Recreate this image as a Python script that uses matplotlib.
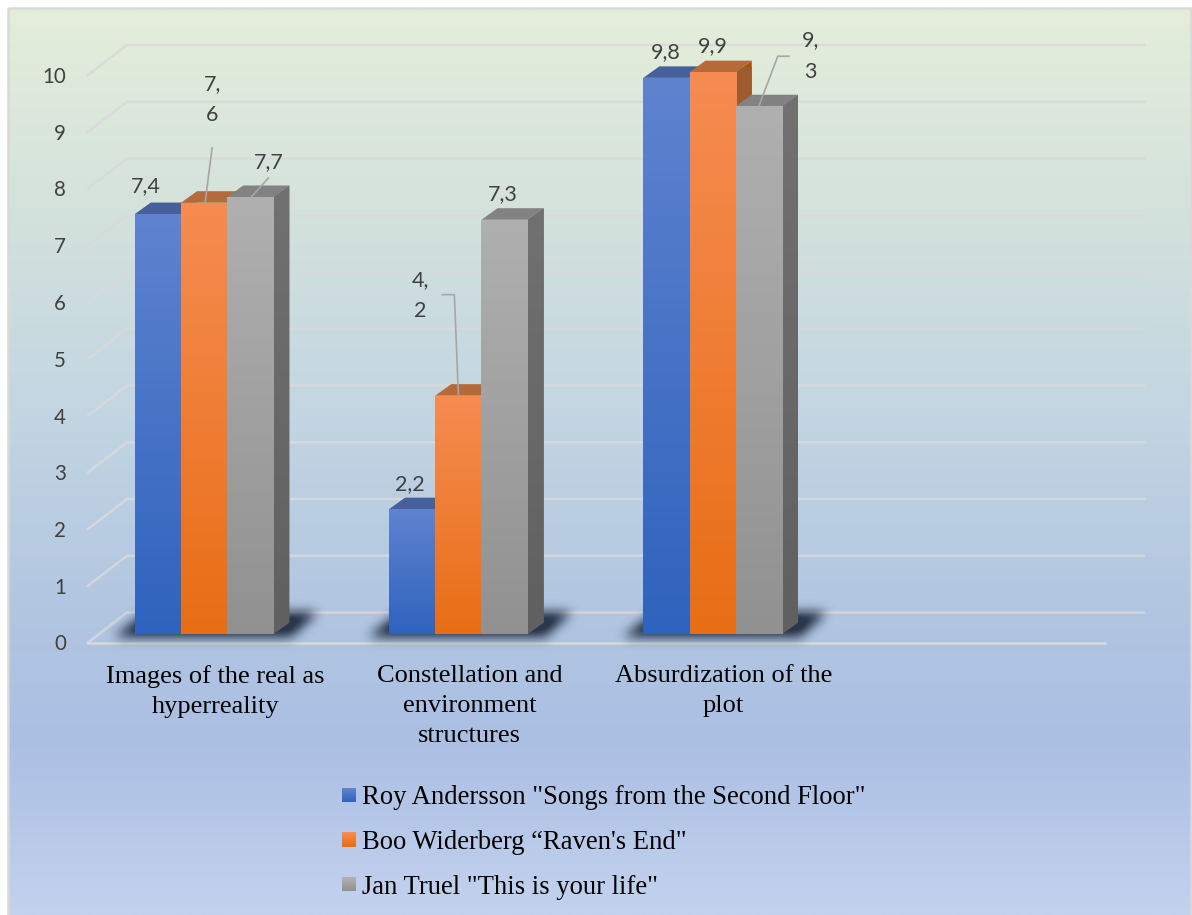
import numpy as np
import matplotlib
matplotlib.use("Agg")
import matplotlib.pyplot as plt
from matplotlib.colors import to_rgb
from matplotlib.legend_handler import HandlerBase
from matplotlib.patches import Polygon, Rectangle
from matplotlib.path import Path

# ---- chart values -------------------------------------------------------
categories = ["Images of the real as\nhyperreality",
              "Constellation and\nenvironment\nstructures",
              "Absurdization of the\nplot"]
series_names = ['Roy Andersson "Songs from the Second Floor"',
                'Boo Widerberg \u201cRaven\'s End"',
                'Jan Truel "This is your life"']
andersson = [7.4, 2.2, 9.8]
widerberg = [7.6, 4.2, 9.9]
truel = [7.7, 7.3, 9.3]
y_ticks = list(range(11))

# ---- palette: front (top, bottom), top face, side face (top, bottom) -----
front_cols = [("#5F83CF", "#2F63BD"), ("#F68C52", "#E86E15"), ("#B0B0B0", "#919191")]
lid_cols = ["#46609C", "#B56A3C", "#828282"]
side_cols = [("#46609C", "#234A8E"), ("#9E5C30", "#A9510F"), ("#717171", "#606060")]
bg_stops = [(0.0, "#E4EEDA"), (0.22, "#D4E2DC"), (0.44, "#C3D6E2"),
            (0.66, "#B2C6E1"), (0.81, "#ABBFE4"), (1.0, "#C3D2EE")]

# ---- layout in pixels ----------------------------------------------------
W, H = 1192, 915
PX_X = 254.25          # pixels per category slot
PX_Y = 56.75           # pixels per value unit
DEPTH_BAR = (16, 11.5) # extrusion of a bar
DEPTH_WALL = (39, 30)  # distance between front plane and back wall
BAR_W = 46.2 / PX_X

plt.rcParams["font.family"] = ["Lato", "DejaVu Sans"]
fig = plt.figure(figsize=(W / 100, H / 100), dpi=100, facecolor="white")


def axes_px(left, zero_y, top_y, width):
    """Create a transparent axes from pixel positions measured from the top."""
    ax = fig.add_axes([left / W, (H - zero_y) / H, width / W, (zero_y - top_y) / H])
    ax.patch.set_alpha(0)
    return ax


def ramp(top, bottom, n=256):
    t = np.linspace(0, 1, n)[:, None]
    return (1 - t)[..., None] * np.array(to_rgb(top)) + t[..., None] * np.array(to_rgb(bottom))


def fill_gradient(ax, patch, x0, x1, y0, y1, top, bottom, z):
    img = ax.imshow(ramp(top, bottom), extent=(x0, x1, y0, y1), origin="upper",
                    aspect="auto", interpolation="bilinear", zorder=z)
    img.set_clip_path(patch)


# ---- page background ------------------------------------------------------
bg = fig.add_axes([0, 0, 1, 1])
bg.set_xlim(0, W)
bg.set_ylim(H, 0)
bg.axis("off")
pos = np.array([s[0] for s in bg_stops])
rgb = np.array([to_rgb(s[1]) for s in bg_stops])
grid_t = np.linspace(0, 1, 512)
bg_img = np.stack([np.interp(grid_t, pos, rgb[:, i]) for i in range(3)], axis=1)[:, None, :]
bg.imshow(bg_img, extent=(9, 1191, H, 9), aspect="auto", interpolation="bilinear")
bg.set_xlim(0, W)
bg.set_ylim(H, 0)
bg.add_patch(Rectangle((8, 8), 1183, 940, fill=False, ec="#D9D9D9", lw=1.8))

# ---- front plane: value grid, axis labels ----------------------------------
plane = axes_px(88, 642.5, 642.5 - 10 * PX_Y, 4 * PX_X)
plane.set_xlim(-0.5, 3.5)
plane.set_ylim(0, 10)
for s in plane.spines.values():
    s.set_visible(False)
plane.set_yticks(y_ticks)
plane.set_yticklabels([str(v) for v in y_ticks], fontsize=14.8, color="#404040")
plane.set_xticks(range(len(categories)))
plane.set_xticklabels(categories, family="Liberation Serif", fontsize=19, color="black",
                      linespacing=1.47)
plane.tick_params(axis="y", length=0, pad=16)
plane.tick_params(axis="x", length=0, pad=16.5)

wx, wy = DEPTH_WALL[0] / PX_X, DEPTH_WALL[1] / PX_Y
for v in y_ticks:
    plane.plot([-0.5, -0.5 + wx, 3.5 + wx], [v, v + wy, v + wy], color="#D9D9DC",
               lw=1.8, alpha=0.85, clip_on=False, solid_joinstyle="miter", zorder=1)
plane.plot([-0.5, 3.5], [0, 0], color="#D9D9D9", lw=1.8, clip_on=False, zorder=1)

# ---- bar plane -------------------------------------------------------------
ax = axes_px(77, 634, 634 - 10 * PX_Y, 4 * PX_X)
ax.axis("off")
dx, dy = DEPTH_BAR[0] / PX_X, DEPTH_BAR[1] / PX_Y
x_groups = np.arange(len(categories))


def box_blur(a, r, axis):
    kernel = np.ones(2 * r + 1) / (2 * r + 1)
    return np.apply_along_axis(lambda m: np.convolve(m, kernel, mode="same"), axis, a)


# soft shadow on the floor under each group of bars
sh_w, sh_h = 270, 60
gx, gy = np.meshgrid(np.arange(sh_w) + 0.5, np.arange(sh_h) + 0.5)
sh_path = Path([(28, 43), (60, 18), (232, 18), (205, 43)])
mask = sh_path.contains_points(np.c_[gx.ravel(), gy.ravel()]).reshape(gx.shape).astype(float)
for _ in range(3):
    mask = box_blur(box_blur(mask, 5, 0), 5, 1)
shadow = np.zeros((sh_h, sh_w, 4))
shadow[..., :3] = to_rgb("#1E2A40")
shadow[..., 3] = np.clip(mask * 1.15, 0, 1) * 0.92
for g in x_groups:
    # tile placed relative to the group centre, reaching below the floor of the bars
    x0 = g - 118 / PX_X
    x1 = x0 + sh_w / PX_X
    y1 = 40 / PX_Y
    y0 = y1 - sh_h / PX_Y
    ax.imshow(shadow, extent=(x0, x1, y0, y1), aspect="auto", interpolation="bilinear",
              zorder=1.5, clip_on=False)

all_series = [andersson, widerberg, truel]
offsets = [-BAR_W, 0, BAR_W]
containers = []
for i, (vals, off) in enumerate(zip(all_series, offsets)):
    z = 3 + i
    centers = x_groups + off
    bars = ax.bar(centers, vals, BAR_W, color=front_cols[i][1], linewidth=0, zorder=z + 0.2,
                  label=series_names[i])
    containers.append(bars)
    for c, v, bar in zip(centers, vals, bars):
        xl, xr = c - BAR_W / 2, c + BAR_W / 2
        side = Polygon([(xr, 0), (xr + dx, dy), (xr + dx, v + dy), (xr, v)], closed=True,
                       fc=side_cols[i][1], ec="none", zorder=z, clip_on=False)
        ax.add_patch(side)
        fill_gradient(ax, side, xr, xr + dx, 0, v + dy, *side_cols[i], z + 0.01)
        lid = Polygon([(xl, v), (xl + dx, v + dy), (xr + dx, v + dy), (xr, v)], closed=True,
                      fc=lid_cols[i], ec="none", zorder=z + 0.1, clip_on=False)
        ax.add_patch(lid)
        fill_gradient(ax, bar, xl, xr, 0, v, *front_cols[i], z + 0.3)

# ---- value labels: offset from the top-centre of the bar, in pixels ---------
label_offsets = [[(-12, 28), (8, 103), (18, 35)],
                 [(-2, 25), (-38, 100), (-2, 26)],
                 [(-1, 26), (0, 26), (52, 50)]]
wrapped = {(0, 1), (1, 1), (2, 2)}
leaders = {(0, 1): [(1, 0), (8, 55)],
           (0, 2): [(1, 0), (18, 19)],
           (1, 1): [(0, 1.5), (-4, 101), (-16, 101)],
           (2, 2): [(0, 0), (19, 50), (30, 50)]}
for i, (vals, off) in enumerate(zip(all_series, offsets)):
    for g, v in enumerate(vals):
        text = f"{v:.1f}".replace(".", ",")
        if (g, i) in wrapped:
            text = text.replace(",", ",\n")
        ox, oy = label_offsets[g][i]
        c = g + off
        ax.text(c + ox / PX_X, v + oy / PX_Y, text, ha="center", va="center", fontsize=15.5,
                color="#404040", linespacing=1.72, zorder=12)
        if (g, i) in leaders:
            pts = np.array(leaders[(g, i)], dtype=float)
            ax.plot(c + pts[:, 0] / PX_X, v + pts[:, 1] / PX_Y, color="#A6A6A6", lw=1.2,
                    zorder=11, clip_on=False)

ax.set_xlim(-0.5, 3.5)
ax.set_ylim(0, 10)


# ---- legend with small gradient swatches -----------------------------------
class GradientSwatch(HandlerBase):
    def create_artists(self, legend, orig, xd, yd, width, height, fontsize, trans):
        idx = [b.get_label() for b in containers].index(orig.get_label())
        size = 14 * 0.72
        steps = 14
        colours = ramp(*front_cols[idx], n=steps)[:, 0]
        out = []
        for k in range(steps):
            out.append(Rectangle((width - size, -yd + height / 2 + size / 2 - (k + 1) * size / steps),
                                 size, size / steps + 0.1, fc=colours[k], ec="none",
                                 transform=trans))
        return out


leg = fig.legend(handles=containers, labels=series_names,
                 handler_map={type(containers[0]): GradientSwatch()},
                 loc="upper left", bbox_to_anchor=(335 / W, 1 - 785 / H), frameon=False,
                 prop={"family": "Liberation Serif", "size": 19.15}, labelspacing=0.745,
                 handlelength=0.8, handletextpad=0.2, borderpad=0, borderaxespad=0)

fig.savefig("out.png", dpi=100, facecolor="white")
